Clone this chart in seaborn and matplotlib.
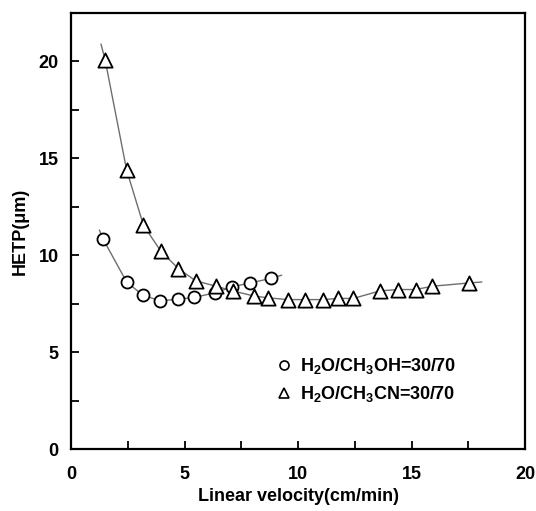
import matplotlib
matplotlib.use("Agg")
import matplotlib.pyplot as plt
import seaborn as sns
import numpy as np
from matplotlib.lines import Line2D
from matplotlib.ticker import MultipleLocator

# Data
meoh_x = [1.42, 2.45, 3.16, 3.92, 4.73, 5.42, 6.34, 7.11, 7.89, 8.80]
meoh_y = [10.82, 8.62, 7.94, 7.65, 7.73, 7.82, 8.06, 8.37, 8.57, 8.80]
acn_x = [1.50, 2.45, 3.19, 3.95, 4.73, 5.49, 6.39, 7.12, 8.08, 8.69, 9.55,
         10.31, 11.11, 11.78, 12.44, 13.61, 14.42, 15.18, 15.92, 17.55]
acn_y = [20.1, 14.4, 11.55, 10.22, 9.31, 8.68, 8.40, 8.16, 7.89, 7.80, 7.71,
         7.71, 7.71, 7.77, 7.77, 8.16, 8.23, 8.23, 8.40, 8.57]
# fitted-curve end points (lines extend slightly past the data)
meoh_fit_start = (1.25, 11.3)
meoh_fit_end = (9.28, 8.97)
acn_fit_start = (1.32, 20.9)
acn_fit_end = (18.1, 8.62)

labels = [r"H$_2$O/CH$_3$OH=30/70", r"H$_2$O/CH$_3$CN=30/70"]
xlabel = "Linear velocity(cm/min)"
ylabel = "HETP(\u03bcm)"

sns.set_style("ticks")
plt.rcParams["font.family"] = ["Liberation Sans", "DejaVu Sans"]
plt.rcParams["font.weight"] = "bold"
plt.rcParams["text.color"] = "black"
plt.rcParams["axes.labelcolor"] = "black"
plt.rcParams["xtick.color"] = "black"
plt.rcParams["ytick.color"] = "black"
plt.rcParams["mathtext.fontset"] = "custom"
plt.rcParams["mathtext.rm"] = "Liberation Sans:bold"
plt.rcParams["mathtext.it"] = "Liberation Sans:bold"
plt.rcParams["mathtext.bf"] = "Liberation Sans:bold"
plt.rcParams["mathtext.default"] = "rm"

FS = 13

fig = plt.figure(figsize=(5.36, 5.11), dpi=100)
ax = fig.add_axes([71/536, 62/511, 454/536, 436/511])

line_color = "#6e6e6e"
mx = [meoh_fit_start[0]] + meoh_x + [meoh_fit_end[0]]
my = [meoh_fit_start[1]] + meoh_y + [meoh_fit_end[1]]
ax_x = [acn_fit_start[0]] + acn_x + [acn_fit_end[0]]
ax_y = [acn_fit_start[1]] + acn_y + [acn_fit_end[1]]
sns.lineplot(x=mx, y=my, sort=False, ax=ax, color=line_color, lw=1.0, zorder=1)
sns.lineplot(x=ax_x, y=ax_y, sort=False, ax=ax, color=line_color, lw=1.0, zorder=1)

sns.scatterplot(x=meoh_x, y=meoh_y, marker="o", s=75, facecolor="white",
                edgecolor="black", linewidth=1.3, ax=ax, zorder=3)
sns.scatterplot(x=acn_x, y=acn_y, marker="^", s=105, facecolor="white",
                edgecolor="black", linewidth=1.3, ax=ax, zorder=3)

ax.set_xlim(0, 20)
ax.set_ylim(0, 22.5)
ax.xaxis.set_major_locator(MultipleLocator(5))
ax.xaxis.set_minor_locator(MultipleLocator(2.5))
ax.yaxis.set_major_locator(MultipleLocator(5))
ax.yaxis.set_minor_locator(MultipleLocator(2.5))
ax.tick_params(which="both", direction="in", length=6, width=1.3,
               top=False, right=False, labelsize=FS, colors="black")
ax.tick_params(axis="x", which="major", pad=12)
ax.tick_params(axis="y", which="major", pad=9)
for s in ax.spines.values():
    s.set_linewidth(1.6)
    s.set_color("black")
for lab in ax.get_xticklabels() + ax.get_yticklabels():
    lab.set_fontweight("bold")

ax.set_xlabel(xlabel, fontsize=FS, fontweight="bold", labelpad=4, color="black")
ax.set_ylabel(ylabel, fontsize=FS, fontweight="bold", labelpad=7, color="black")

handles = [
    Line2D([], [], ls="none", marker="o", markersize=6.5, mfc="white", mec="black", mew=1.2),
    Line2D([], [], ls="none", marker="^", markersize=7.5, mfc="white", mec="black", mew=1.2),
]
ax.legend(handles, labels, loc="lower left", bbox_to_anchor=(0.41, 0.065),
          frameon=False, fontsize=FS, handletextpad=0.3, labelspacing=0.45,
          handlelength=1.2, labelcolor="black")

fig.savefig("out.png", dpi=100)
